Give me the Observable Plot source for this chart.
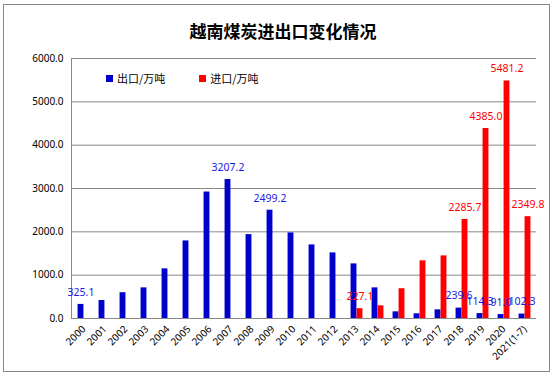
<!DOCTYPE html>
<html><head><meta charset="utf-8">
<script src="https://cdn.jsdelivr.net/npm/d3@7"></script>
<script src="https://cdn.jsdelivr.net/npm/@observablehq/plot@0.6"></script>
<style>
body{margin:0;background:#fff;font-family:"Noto Sans CJK SC","Noto Sans",sans-serif;}
#frame{position:absolute;left:3px;top:4px;width:547px;height:368px;border:1px solid #888;box-sizing:border-box;}
#title{position:absolute;left:0;top:18px;width:566px;text-align:center;font-size:17px;font-weight:bold;color:#000;letter-spacing:0px;}
#chart{position:absolute;left:0;top:44px;}
#legend{position:absolute;top:70px;left:106px;font-size:11px;color:#000;display:flex;gap:0;}
#legend span.item{display:inline-flex;align-items:center;margin-right:34px;}
#legend i{display:inline-block;width:7px;height:7px;margin-right:4px;}
</style></head>
<body>
<div id="frame"></div>
<div id="title">越南煤炭进出口变化情况</div>
<div id="chart"></div>
<div id="legend"></div>
<script>
const years = ["2000","2001","2002","2003","2004","2005","2006","2007","2008","2009","2010","2011","2012","2013","2014","2015","2016","2017","2018","2019","2020","2021(1-7)"];
const exportValues = [325.1,415,595,707,1145,1790,2919,3207.2,1936,2499.2,1975,1698,1514,1260,707,154,108,200,239.6,114.3,91.0,102.3];
const importValues = [null,null,null,null,null,null,null,null,null,null,null,null,null,227.1,293,687,1330,1445,2285.7,4385.0,5481.2,2349.8];
const exportLabelYears = ["2000","2007","2009","2018","2019","2020","2021(1-7)"];
const importLabelYears = ["2013","2018","2019","2020","2021(1-7)"];
const yTicks = [0,1000,2000,3000,4000,5000,6000];
const seriesNames = ["出口/万吨","进口/万吨"];
const seriesColors = ["#0000cc","#ff0000"];

const exportsData = years.map((y,i)=>({year:y, value:exportValues[i]}));
const importsData = years.map((y,i)=>({year:y, value:importValues[i]})).filter(d=>d.value!=null);

const W = 556, H = 328, ML = 71, MR = 20, MT = 14, MB = 54;
const bw = (W - ML - MR) / years.length;
const barW = 6;
const fontF = "'Noto Sans','DejaVu Sans',sans-serif";

const chart = Plot.plot({
  width: W, height: H,
  marginLeft: ML, marginRight: MR, marginTop: MT, marginBottom: MB,
  style: {fontFamily: fontF, fontSize: "10px", color: "#000", background: "transparent"},
  x: {domain: years, padding: 0, label: null, tickSize: 0, tickRotate: -45, tickPadding: 9},
  y: {domain: [0, 6000], ticks: yTicks, label: null, tickSize: 0, tickPadding: 8, tickFormat: d => d.toFixed(1)},
  marks: [
    Plot.ruleY(yTicks, {stroke: "#888", strokeWidth: 1}),
    Plot.frame({anchor: "left", stroke: "#888"}),
    Plot.barY(exportsData, {x: "year", y: "value", fill: seriesColors[0], insetLeft: bw/2 - barW, insetRight: bw/2}),
    Plot.barY(importsData, {x: "year", y: "value", fill: seriesColors[1], insetLeft: bw/2, insetRight: bw/2 - barW}),
    Plot.text(exportsData.filter(d => exportLabelYears.includes(d.year)), {x: "year", y: "value", text: d => d.value.toFixed(1), dx: -barW/2, dy: -12, fill: "#1a1ae6", fontSize: 10.5}),
    Plot.text(importsData.filter(d => importLabelYears.includes(d.year)), {x: "year", y: "value", text: d => d.value.toFixed(1), dx: barW/2, dy: -12, fill: "#ff0000", fontSize: 10.5})
  ]
});
document.getElementById("chart").appendChild(chart);

const legend = document.getElementById("legend");
seriesNames.forEach((n,i)=>{
  const s = document.createElement("span"); s.className = "item";
  const b = document.createElement("i"); b.style.background = seriesColors[i];
  s.appendChild(b); s.appendChild(document.createTextNode(n));
  legend.appendChild(s);
});
</script>
</body></html>
